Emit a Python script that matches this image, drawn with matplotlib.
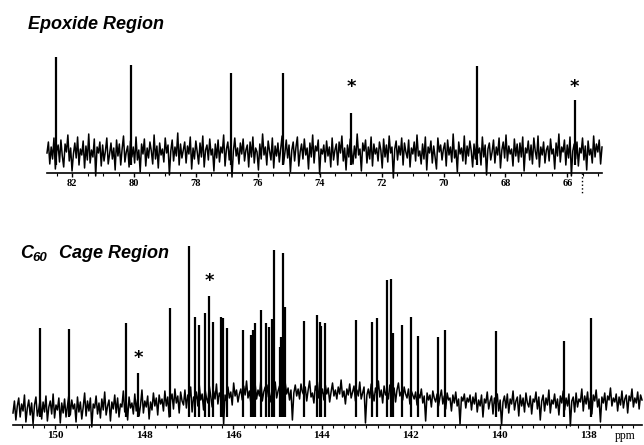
import matplotlib
matplotlib.use("Agg")
import matplotlib.pyplot as plt
import numpy as np
from matplotlib.ticker import MultipleLocator

# ---- data (intensities in arbitrary units above the baseline) ----
# epoxide region
epox_peak_ppm = [82.53, 80.10, 76.87, 75.19, 72.99, 68.92, 65.76]
epox_peak_int = [116, 108, 100, 100, 60, 107, 73]
epox_star_ppm = [72.99, 65.76]
epox_noise = [
    20, 31, 9, 26, 14, 35, 4, 22, 28, 11, 33, 17, 6, 29, 21, 38, 12, 25, 2, 19,
    30, 15, 36, 8, 24, 18, 32, 5, 27, 13, 39, 10, 23, 16, 34, -3, 26, 20, 31, 7,
    28, 12, 22, 35, 9, 19, 30, 14, 25, 3, 33, 17, 29, 8, 24, 37, 11, 21, 27, 6,
    32, 16, 26, 10, 36, 13, 23, 1, 29, 19, 34, 7, 25, 15, 31, 22, 9, 38, 14, 27,
    5, 30, 18, 24, 11, 35, 20, 28, -2, 22, 33, 12, 26, 17, 40, 8, 29, 15, 23, 31,
    10, 27, 19, 36, 4, 25, 14, 32, 21, 9, 30, 16, 37, 6, 23, 28, 13, 34, 18, 24,
    2, 29, 15, 33, 11, 26, 20, 38, 7, 24, 31, 13, 27, -4, 22, 35, 17, 25, 9, 30,
    19, 34, 12, 23, 28, 6, 31, 16, 36, 10, 25, 21, 3, 29, 14, 39, 18, 26, 8, 32,
    22, 13, 35, 5, 27, 17, 30, 11, 24, 37, 9, 20, 33, 15, 28, 1, 23, 31, 12, 26,
    36, 7, 21, 29, 14, 34, 18, 25, 4, 30, 16, 38, 10, 27, 22, 33, -1, 24, 19, 28,
    11, 32, 17, 26, 6, 35, 13, 23, 29, 8, 31, 20, 37, 12, 25, 3, 28, 16, 34, 21,
    9, 27, 15, 39, 18, 24, 2, 30, 22, 33, 10, 26, 14, 36, 7, 29, 19, 25, 12, 31,
    23, 5, 34, 16, 28, 11, 37, 20, 26, -5, 24, 32, 13, 27, 18, 35, 8, 30, 21, 15,
    33, 6, 25, 19, 31, 12, 38, 17, 22, 9, 29, 14, 36, 3, 26, 20, 32, 10, 27, 16,
    4, 35, 21, 28, 13, 24, 30, 7, 33, 18, 26, 11, 39, 15, 23, 1, 31, 19, 25, 12,
    37, 9, 27, 17, 32, 22, 6, 29, 14, 34, 20, 25, 8, 36, 16, 28, -2, 24, 30, 13,
    21, 33, 10, 26, 18, 35, 5, 23, 31, 15, 38, 12, 27, 19, 24, 7, 34, 17, 29, 11,
    30, 16, 36, 2, 25, 20, 32, 13, 28, 9, 35, 22, 14, 37, 6, 26, 18, 31, 10, 23,
    27, 12, 34, 19, 24, 4, 30, 17, 39, 11, 26, 21, 33, 8, 28, 15, 36, -3, 22, 29,
    14, 31, 7, 25, 20, 35, 13, 27, 3, 32, 18, 24, 10, 37, 16, 29, 21, 33, 9, 26,
]
epox_ticks = [82, 80, 78, 76, 74, 72, 70, 68, 66]

# C60 cage region
cage_peak_ppm = [150.35, 149.70, 148.40, 148.13, 147.42, 147.00, 146.86, 146.77,
                 146.64, 146.53, 146.45, 146.27, 146.23, 146.13, 145.78, 145.59,
                 145.55, 145.51, 145.36, 145.26, 145.20, 145.12, 145.07, 144.95,
                 144.91, 144.87, 144.82, 144.41, 144.11, 144.05, 144.01, 143.94,
                 143.24, 142.87, 142.77, 142.53, 142.45, 142.40, 142.19, 142.00,
                 141.85, 141.40, 141.24, 140.09, 138.55, 137.95]
cage_peak_int = [97, 96, 102, 52, 117, 179, 108, 100,
                 112, 129, 103, 108, 107, 97, 95, 90,
                 95, 102, 115, 102, 98, 106, 175, 78,
                 88, 172, 118, 104, 110, 103, 99, 102,
                 105, 103, 107, 145, 146, 92, 100, 108,
                 89, 88, 95, 94, 84, 107]
cage_star_ppm = [148.13, 146.53]
cage_noise = [
    12, 24, 5, 19, 27, 8, 21, 14, 30, 3, 17, 25, 10, 22, 1, 20, 28, 9, 16, 26,
    6, 23, 13, 29, 4, 18, 24, 11, 31, 7, 20, 15, 27, 2, 22, 12, 26, 8, 19, 30,
    10, 25, 16, 21, 3, 28, 13, 23, 6, 18, 32, 9, 24, 14, 27, -2, 21, 17, 29, 11,
    22, 7, 26, 15, 33, 10, 19, 25, 4, 23, 16, 30, 12, 27, 8, 21, 18, 34, 13, 24,
    5, 28, 17, 22, 11, 31, 14, 26, 9, 20, 35, 12, 24, 18, 29, 6, 23, 15, 32, 19,
    27, 10, 30, 21, 26, 14, 34, 19, 28, 8, 25, 31, 16, 36, 22, 29, 12, 33, 24, 20,
    35, 17, 30, 26, 38, 13, 28, 23, 33, 19, 40, 25, 31, 15, 36, 27, 22, 39, 29, 18,
    34, 26, 41, 21, 32, 28, 37, 1, 30, 24, 38, 27, 33, 20, 42, 29, 35, 23, 31, 36,
    25, 39, 30, 44, 27, 34, 22, 37, 31, 41, 26, 35, 29, 45, 24, 33, 38, 28, 40, 32,
    23, 36, 30, 43, 27, 34, 39, 21, 33, 28, 42, 31, 37, 25, 35, 5, 32, 40, 29, 36,
    26, 41, 33, 30, 38, 24, 35, 44, 28, 32, 22, 39, 34, 27, 43, 30, 36, 25, 40, 31,
    37, 23, 33, 42, 29, 35, 26, 38, 31, 45, 28, 34, 21, 36, 30, 41, 27, 33, 39, 24,
    35, 29, 43, 26, 32, 38, 2, 30, 36, 27, 41, 33, 24, 37, 31, 44, 28, 35, 22, 39,
    30, 34, 26, 40, 32, 28, 37, 23, 35, 42, 29, 33, 25, 38, 31, 27, 36, 21, 34, 30,
    26, 33, 20, 31, 27, 36, 22, 29, 4, 32, 25, 30, 18, 34, 27, 23, 31, 19, 28, 35,
    21, 29, 16, 32, 25, 27, 14, 30, 22, 33, 19, 26, 1, 28, 24, 31, 17, 27, 23, 30,
    15, 28, 21, 32, 13, 25, 19, 30, 8, 26, 22, 33, 16, 24, 29, 11, 27, 20, 31, 14,
    25, 0, 23, 29, 17, 31, 12, 26, 21, 34, 15, 24, 28, 9, 30, 19, 27, 13, 32, 22,
    18, 29, 11, 26, 23, 33, 16, 28, 5, 24, 30, 14, 27, 20, 35, 12, 25, 21, 31, 17,
    26, 10, 29, 22, 34, 15, 27, 19, 31, -1, 24, 28, 13, 32, 18, 26, 23, 36, 14, 29,
    21, 33, 16, 27, 11, 30, 24, 35, 18, 26, 3, 28, 22, 32, 15, 29, 25, 37, 19, 27,
    23, 31, 14, 28, 20, 34, 17, 26, 30, 12, 29, 24, 36, 18, 27, 22, 33, 16, 30, 25,
]
cage_ticks = [150, 148, 146, 144, 142, 140, 138]

# ---- figure ----
W, H = 644, 445
fig = plt.figure(figsize=(W / 100, H / 100), dpi=100, facecolor='white')

def px_axes(left, right, bottom, top):
    # axes from pixel box (y measured from top of image)
    return fig.add_axes([left / W, 1 - bottom / H, (right - left) / W, (bottom - top) / H])

ax1 = px_axes(47, 602, 173, 45)
ax2 = px_axes(13, 642, 425, 240)

tick_font = dict(family='Liberation Serif', weight='bold')

def draw_spectrum(ax, lim, ytop, noise, peak_ppm, peak_int, ticks, minor, fs):
    ax.set_xlim(*lim)
    ax.set_ylim(0, ytop)
    x_noise = np.linspace(lim[0], lim[1], len(noise))
    ax.plot(x_noise, noise, color='black', lw=1.1, clip_on=False)
    ax.vlines(peak_ppm, 8, peak_int, color='black', lw=1.6)
    for s in ['top', 'left', 'right']:
        ax.spines[s].set_visible(False)
    ax.spines['bottom'].set_linewidth(1.2)
    ax.set_yticks([])
    ax.set_xticks(ticks)
    ax.set_xticklabels([str(t) for t in ticks], fontsize=fs, **tick_font)
    ax.xaxis.set_minor_locator(MultipleLocator(minor))
    ax.tick_params(axis='x', which='major', direction='out', length=3, width=1, pad=1.5)
    ax.tick_params(axis='x', which='minor', direction='out', length=2, width=0.8)
    ax.patch.set_alpha(0)

draw_spectrum(ax1, (82.81, 64.88), 128, epox_noise, epox_peak_ppm, epox_peak_int,
              epox_ticks, 0.5, 7.5)
draw_spectrum(ax2, (150.95, 136.8), 185, cage_noise, cage_peak_ppm, cage_peak_int,
              cage_ticks, 0.25, 8)

# asterisks marking peaks
for p in epox_star_ppm:
    ax1.text(p, 86, '*', ha='center', va='center', fontsize=13, weight='bold',
             family='DejaVu Sans')
for p in cage_star_ppm:
    h = cage_peak_int[cage_peak_ppm.index(p)]
    ax2.text(p, h + 15, '*', ha='center', va='center', fontsize=13, weight='bold',
             family='DejaVu Sans')

# dotted marker under the epoxide axis
ax1.plot([65.53, 65.53], [0, -22], color='black', lw=1, ls=':', clip_on=False)

# titles
title_font = dict(family='Liberation Sans', weight='bold', style='italic')
fig.text(28 / W, 1 - 29 / H, 'Epoxide Region', fontsize=13, ha='left',
         va='baseline', **title_font)
fig.text(20 / W, 1 - 258 / H, 'C', fontsize=13, ha='left', va='baseline', **title_font)
fig.text(32 / W, 1 - 261 / H, '60', fontsize=9.5, ha='left', va='baseline', **title_font)
fig.text(59 / W, 1 - 258 / H, 'Cage Region', fontsize=13, ha='left',
         va='baseline', **title_font)

fig.text(615 / W, 1 - 436 / H, 'ppm', fontsize=8.5, ha='left', va='center',
         family='Liberation Serif')

fig.savefig('out.png', dpi=100, facecolor='white')
